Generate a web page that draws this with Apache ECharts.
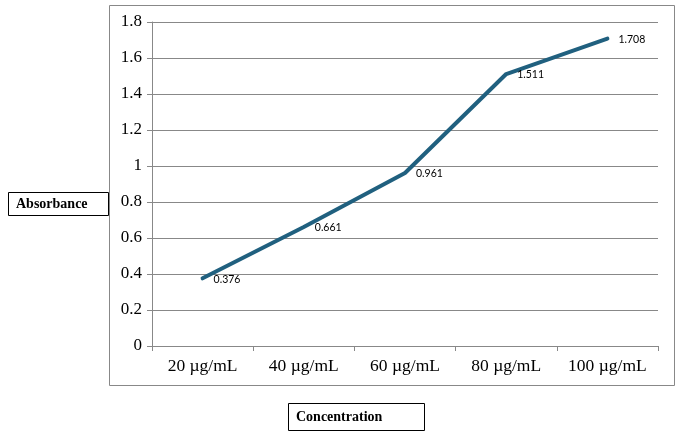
<!DOCTYPE html>
<html><head><meta charset="utf-8">
<script src="https://cdn.jsdelivr.net/npm/echarts@6/dist/echarts.min.js"></script>
<style>html,body{margin:0;padding:0;background:#fff}#c{width:676px;height:434px}</style>
</head><body><div id="c"></div>
<script>
const categories = ['20 µg/mL', '40 µg/mL', '60 µg/mL', '80 µg/mL', '100 µg/mL'];
const absorbance = [0.376, 0.661, 0.961, 1.511, 1.708];
const yTicks = {min: 0, max: 1.8, interval: 0.2};
const yTitle = 'Absorbance';
const xTitle = 'Concentration';

const chart = echarts.init(document.getElementById('c'));
chart.setOption({
  animation: false,
  backgroundColor: '#fff',
  grid: {left: 152, right: 18, top: 22, bottom: 88},
  xAxis: {
    type: 'category', data: categories, boundaryGap: true,
    axisLine: {lineStyle: {color: '#888', width: 1}},
    axisTick: {show: true, length: 5, interval: 0, lineStyle: {color: '#888'}},
    axisLabel: {color: '#000', fontFamily: 'Liberation Serif', fontSize: 17.5, margin: 11, interval: 0}
  },
  yAxis: {
    type: 'value', min: yTicks.min, max: yTicks.max, interval: yTicks.interval,
    axisLine: {show: true, lineStyle: {color: '#888', width: 1}},
    axisTick: {show: true, length: 5, lineStyle: {color: '#888'}},
    splitLine: {lineStyle: {color: '#888', width: 1}},
    axisLabel: {color: '#000', fontFamily: 'Liberation Serif', fontSize: 17, margin: 10,
      formatter: v => String(Math.round(v * 10) / 10)}
  },
  series: [{
    type: 'line', data: absorbance, symbol: 'circle', symbolSize: 2, showSymbol: true,
    itemStyle: {color: '#20607f'},
    lineStyle: {color: '#20607f', width: 4, cap: 'round'},
    label: {show: true, position: 'right', distance: 10, offset: [0, 1],
      color: '#000', fontFamily: 'Lato', fontSize: 10.5,
      formatter: p => String(p.value)}
  }],
  graphic: [
    {type: 'rect', shape: {x: 109.5, y: 5.5, width: 565, height: 380},
      style: {fill: 'none', stroke: '#888', lineWidth: 1}, z: -1},
    {type: 'rect', shape: {x: 8.5, y: 192.5, width: 100, height: 23},
      style: {fill: '#fff', stroke: '#000', lineWidth: 1}},
    {type: 'text', x: 16, y: 204, style: {text: yTitle, fill: '#000',
      font: 'bold 14px "Liberation Serif"', verticalAlign: 'middle'}},
    {type: 'rect', shape: {x: 288.5, y: 403.5, width: 136, height: 27},
      style: {fill: '#fff', stroke: '#000', lineWidth: 1}},
    {type: 'text', x: 296, y: 417, style: {text: xTitle, fill: '#000',
      font: 'bold 14px "Liberation Serif"', verticalAlign: 'middle'}}
  ]
});
</script></body></html>
